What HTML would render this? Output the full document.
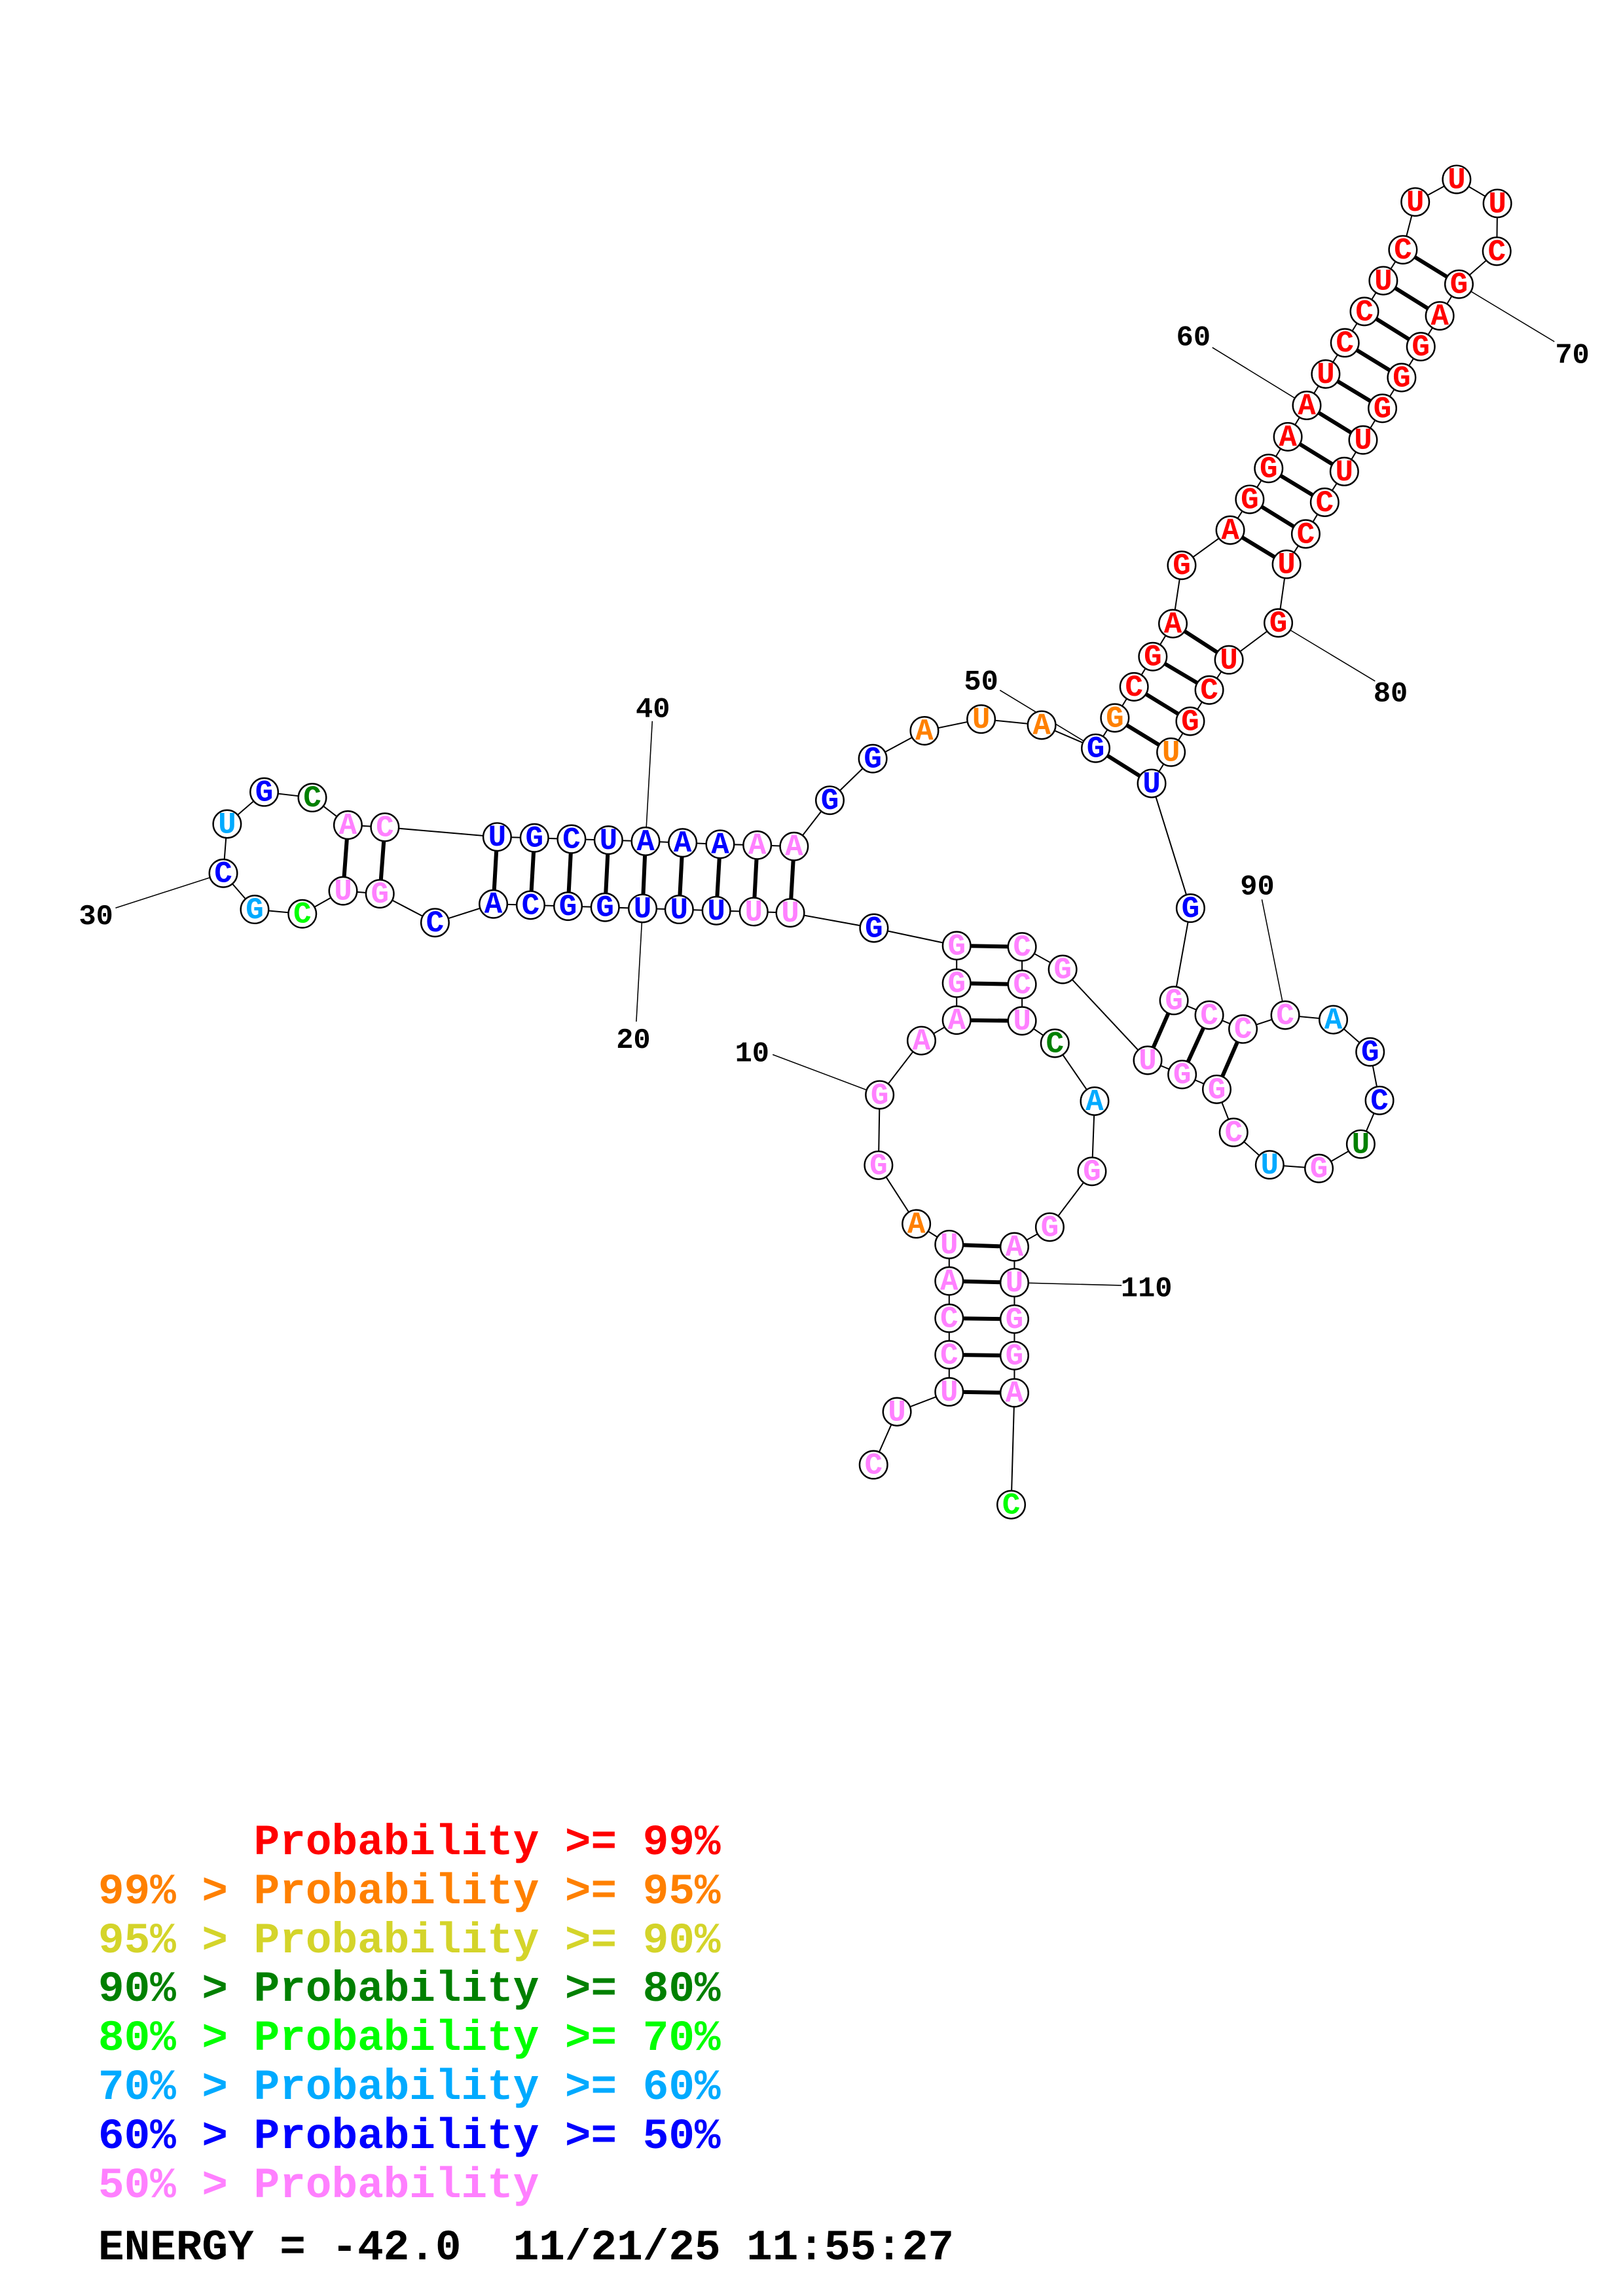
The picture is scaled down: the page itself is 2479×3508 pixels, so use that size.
<!DOCTYPE html>
<html>
<head>
<meta charset="utf-8">
<style>
html,body{margin:0;padding:0;background:#fff;}
svg{display:block;}
.nt circle{fill:#fff;stroke:#000;stroke-width:1.1;}
.nt text{font-family:"Liberation Mono","DejaVu Sans Mono",monospace;font-weight:bold;font-size:20.5px;text-anchor:middle;}
.lab{font-family:"Liberation Mono","DejaVu Sans Mono",monospace;font-weight:bold;font-size:19.5px;text-anchor:middle;fill:#000;}
.leg{font-family:"Liberation Mono","DejaVu Sans Mono",monospace;font-weight:bold;font-size:66px;white-space:pre;}
.p{fill:#ff80ff}.b{fill:#0000ff}.r{fill:#ff0000}.o{fill:#ff8000}.d{fill:#008000}.g{fill:#00ff00}.s{fill:#00aaff}
</style>
</head>
<body>
<svg width="2479" height="3508" viewBox="0 0 2479 3508" xmlns="http://www.w3.org/2000/svg">
<rect width="2479" height="3508" fill="#fff"/>
<g transform="scale(2.2394)">
<!-- label lines -->
<g stroke="#000" stroke-width="0.7" fill="none">
<line x1="527" y1="719.5" x2="600" y2="747"/>
<line x1="434" y1="697" x2="438.3" y2="619.8"/>
<line x1="78.8" y1="619.5" x2="152.3" y2="595.8"/>
<line x1="444.9" y1="492" x2="440.3" y2="574"/>
<line x1="682" y1="470.9" x2="747.3" y2="510.5"/>
<line x1="826.9" y1="237.1" x2="891.3" y2="276.6"/>
<line x1="1060.2" y1="233.1" x2="995.1" y2="193.9"/>
<line x1="937.9" y1="464.7" x2="871.9" y2="425"/>
<line x1="860.7" y1="613.7" x2="876.6" y2="692.6"/>
<line x1="765" y1="877" x2="691.9" y2="875.1"/>
</g>
<!-- backbone -->
<polyline fill="none" stroke="#000" stroke-width="0.9" points="595.8,999.4 611.8,963.2 647.4,949.6 647.4,924.3 647.4,899.4 647.4,874 647.4,849.1 625,835 599.2,795 600,747 628.5,710 652.5,696 652.5,670.8 652.5,645.2 596.1,633.2 539,622.8 514.1,622 488.6,621.3 463.2,620.5 438.3,619.8 412.7,619 387.4,618.3 361.9,617.5 336.5,616.8 296.7,629.5 259.1,609.8 234,607.8 206.2,623.5 173.7,620.5 152.3,595.8 154.9,562.2 180.2,540.4 213,544.2 237.3,562.9 262.5,564.4 339.1,571 364.5,571.7 389.8,572.5 415,573.2 440.3,574 465.6,575 491.2,576 516.5,576.6 541.6,577.5 566,546 595.3,517.6 630.5,498.6 669.2,490.6 710.5,494.7 747.3,510.5 760.4,489.8 773.5,468.6 786.3,448 800,425.5 806,385.7 839.1,361.7 852.4,340.7 865.3,319.6 878.4,298 891.3,276.6 904.2,255.2 917.3,233.9 930.6,212.5 943.5,191.5 956.9,170.4 965.3,137.8 993.5,122.4 1021.3,138.8 1020.9,171.4 995.1,193.9 982,215.5 969.1,236.5 956,257.6 942.9,278.6 929.7,300.2 916.9,321.7 903.5,342.7 890.6,364.3 877.5,385 871.9,425 838.2,450.2 824.8,470.8 811.8,492.1 798.7,513.2 785.5,534.5 812,619.6 800.7,682.6 824.8,692.6 847.8,702.1 876.6,692.6 909.4,695.7 934.5,717.7 940.9,750.8 928.1,780.6 899.6,797.2 866,794.7 841.4,772.6 829.9,743.2 806.3,733.1 782.8,723.4 724.8,661.4 697.1,646 697.1,671.6 697.1,696.5 719.5,711.8 746.6,751.3 744.8,799.2 716,837.2 691.9,850.7 691.9,875.1 691.9,900 691.9,924.9 691.9,950.3 689.7,1026.6"/>
<!-- pairs -->
<g stroke="#000" stroke-width="2.7">
<line x1="647.4" y1="949.6" x2="691.9" y2="950.3"/>
<line x1="647.4" y1="924.3" x2="691.9" y2="924.9"/>
<line x1="647.4" y1="899.4" x2="691.9" y2="900"/>
<line x1="647.4" y1="874" x2="691.9" y2="875.1"/>
<line x1="647.4" y1="849.1" x2="691.9" y2="850.7"/>
<line x1="652.5" y1="696" x2="697.1" y2="696.5"/>
<line x1="652.5" y1="670.8" x2="697.1" y2="671.6"/>
<line x1="652.5" y1="645.2" x2="697.1" y2="646"/>
<line x1="539" y1="622.8" x2="541.6" y2="577.5"/>
<line x1="514.1" y1="622" x2="516.5" y2="576.6"/>
<line x1="488.6" y1="621.3" x2="491.2" y2="576"/>
<line x1="463.2" y1="620.5" x2="465.6" y2="575"/>
<line x1="438.3" y1="619.8" x2="440.3" y2="574"/>
<line x1="412.7" y1="619" x2="415" y2="573.2"/>
<line x1="387.4" y1="618.3" x2="389.8" y2="572.5"/>
<line x1="361.9" y1="617.5" x2="364.5" y2="571.7"/>
<line x1="336.5" y1="616.8" x2="339.1" y2="571"/>
<line x1="259.1" y1="609.8" x2="262.5" y2="564.4"/>
<line x1="234" y1="607.8" x2="237.3" y2="562.9"/>
<line x1="747.3" y1="510.5" x2="785.5" y2="534.5"/>
<line x1="760.4" y1="489.8" x2="798.7" y2="513.2"/>
<line x1="773.5" y1="468.6" x2="811.8" y2="492.1"/>
<line x1="786.3" y1="448" x2="824.8" y2="470.8"/>
<line x1="800" y1="425.5" x2="838.2" y2="450.2"/>
<line x1="839.1" y1="361.7" x2="877.5" y2="385"/>
<line x1="852.4" y1="340.7" x2="890.6" y2="364.3"/>
<line x1="865.3" y1="319.6" x2="903.5" y2="342.7"/>
<line x1="878.4" y1="298" x2="916.9" y2="321.7"/>
<line x1="891.3" y1="276.6" x2="929.7" y2="300.2"/>
<line x1="904.2" y1="255.2" x2="942.9" y2="278.6"/>
<line x1="917.3" y1="233.9" x2="956" y2="257.6"/>
<line x1="930.6" y1="212.5" x2="969.1" y2="236.5"/>
<line x1="943.5" y1="191.5" x2="982" y2="215.5"/>
<line x1="956.9" y1="170.4" x2="995.1" y2="193.9"/>
<line x1="800.7" y1="682.6" x2="782.8" y2="723.4"/>
<line x1="824.8" y1="692.6" x2="806.3" y2="733.1"/>
<line x1="847.8" y1="702.1" x2="829.9" y2="743.2"/>
</g>
<!-- nucleotides -->
<g class="nt">
<g transform="translate(595.8,999.4)"><circle r="9.5"/><text y="6" class="p">C</text></g>
<g transform="translate(611.8,963.2)"><circle r="9.5"/><text y="6" class="p">U</text></g>
<g transform="translate(647.4,949.6)"><circle r="9.5"/><text y="6" class="p">U</text></g>
<g transform="translate(647.4,924.3)"><circle r="9.5"/><text y="6" class="p">C</text></g>
<g transform="translate(647.4,899.4)"><circle r="9.5"/><text y="6" class="p">C</text></g>
<g transform="translate(647.4,874)"><circle r="9.5"/><text y="6" class="p">A</text></g>
<g transform="translate(647.4,849.1)"><circle r="9.5"/><text y="6" class="p">U</text></g>
<g transform="translate(625,835)"><circle r="9.5"/><text y="6" class="o">A</text></g>
<g transform="translate(599.2,795)"><circle r="9.5"/><text y="6" class="p">G</text></g>
<g transform="translate(600,747)"><circle r="9.5"/><text y="6" class="p">G</text></g>
<g transform="translate(628.5,710)"><circle r="9.5"/><text y="6" class="p">A</text></g>
<g transform="translate(652.5,696)"><circle r="9.5"/><text y="6" class="p">A</text></g>
<g transform="translate(652.5,670.8)"><circle r="9.5"/><text y="6" class="p">G</text></g>
<g transform="translate(652.5,645.2)"><circle r="9.5"/><text y="6" class="p">G</text></g>
<g transform="translate(596.1,633.2)"><circle r="9.5"/><text y="6" class="b">G</text></g>
<g transform="translate(539,622.8)"><circle r="9.5"/><text y="6" class="p">U</text></g>
<g transform="translate(514.1,622)"><circle r="9.5"/><text y="6" class="p">U</text></g>
<g transform="translate(488.6,621.3)"><circle r="9.5"/><text y="6" class="b">U</text></g>
<g transform="translate(463.2,620.5)"><circle r="9.5"/><text y="6" class="b">U</text></g>
<g transform="translate(438.3,619.8)"><circle r="9.5"/><text y="6" class="b">U</text></g>
<g transform="translate(412.7,619)"><circle r="9.5"/><text y="6" class="b">G</text></g>
<g transform="translate(387.4,618.3)"><circle r="9.5"/><text y="6" class="b">G</text></g>
<g transform="translate(361.9,617.5)"><circle r="9.5"/><text y="6" class="b">C</text></g>
<g transform="translate(336.5,616.8)"><circle r="9.5"/><text y="6" class="b">A</text></g>
<g transform="translate(296.7,629.5)"><circle r="9.5"/><text y="6" class="b">C</text></g>
<g transform="translate(259.1,609.8)"><circle r="9.5"/><text y="6" class="p">G</text></g>
<g transform="translate(234,607.8)"><circle r="9.5"/><text y="6" class="p">U</text></g>
<g transform="translate(206.2,623.5)"><circle r="9.5"/><text y="6" class="g">C</text></g>
<g transform="translate(173.7,620.5)"><circle r="9.5"/><text y="6" class="s">G</text></g>
<g transform="translate(152.3,595.8)"><circle r="9.5"/><text y="6" class="b">C</text></g>
<g transform="translate(154.9,562.2)"><circle r="9.5"/><text y="6" class="s">U</text></g>
<g transform="translate(180.2,540.4)"><circle r="9.5"/><text y="6" class="b">G</text></g>
<g transform="translate(213,544.2)"><circle r="9.5"/><text y="6" class="d">C</text></g>
<g transform="translate(237.3,562.9)"><circle r="9.5"/><text y="6" class="p">A</text></g>
<g transform="translate(262.5,564.4)"><circle r="9.5"/><text y="6" class="p">C</text></g>
<g transform="translate(339.1,571)"><circle r="9.5"/><text y="6" class="b">U</text></g>
<g transform="translate(364.5,571.7)"><circle r="9.5"/><text y="6" class="b">G</text></g>
<g transform="translate(389.8,572.5)"><circle r="9.5"/><text y="6" class="b">C</text></g>
<g transform="translate(415,573.2)"><circle r="9.5"/><text y="6" class="b">U</text></g>
<g transform="translate(440.3,574)"><circle r="9.5"/><text y="6" class="b">A</text></g>
<g transform="translate(465.6,575)"><circle r="9.5"/><text y="6" class="b">A</text></g>
<g transform="translate(491.2,576)"><circle r="9.5"/><text y="6" class="b">A</text></g>
<g transform="translate(516.5,576.6)"><circle r="9.5"/><text y="6" class="p">A</text></g>
<g transform="translate(541.6,577.5)"><circle r="9.5"/><text y="6" class="p">A</text></g>
<g transform="translate(566,546)"><circle r="9.5"/><text y="6" class="b">G</text></g>
<g transform="translate(595.3,517.6)"><circle r="9.5"/><text y="6" class="b">G</text></g>
<g transform="translate(630.5,498.6)"><circle r="9.5"/><text y="6" class="o">A</text></g>
<g transform="translate(669.2,490.6)"><circle r="9.5"/><text y="6" class="o">U</text></g>
<g transform="translate(710.5,494.7)"><circle r="9.5"/><text y="6" class="o">A</text></g>
<g transform="translate(747.3,510.5)"><circle r="9.5"/><text y="6" class="b">G</text></g>
<g transform="translate(760.4,489.8)"><circle r="9.5"/><text y="6" class="o">G</text></g>
<g transform="translate(773.5,468.6)"><circle r="9.5"/><text y="6" class="r">C</text></g>
<g transform="translate(786.3,448)"><circle r="9.5"/><text y="6" class="r">G</text></g>
<g transform="translate(800,425.5)"><circle r="9.5"/><text y="6" class="r">A</text></g>
<g transform="translate(806,385.7)"><circle r="9.5"/><text y="6" class="r">G</text></g>
<g transform="translate(839.1,361.7)"><circle r="9.5"/><text y="6" class="r">A</text></g>
<g transform="translate(852.4,340.7)"><circle r="9.5"/><text y="6" class="r">G</text></g>
<g transform="translate(865.3,319.6)"><circle r="9.5"/><text y="6" class="r">G</text></g>
<g transform="translate(878.4,298)"><circle r="9.5"/><text y="6" class="r">A</text></g>
<g transform="translate(891.3,276.6)"><circle r="9.5"/><text y="6" class="r">A</text></g>
<g transform="translate(904.2,255.2)"><circle r="9.5"/><text y="6" class="r">U</text></g>
<g transform="translate(917.3,233.9)"><circle r="9.5"/><text y="6" class="r">C</text></g>
<g transform="translate(930.6,212.5)"><circle r="9.5"/><text y="6" class="r">C</text></g>
<g transform="translate(943.5,191.5)"><circle r="9.5"/><text y="6" class="r">U</text></g>
<g transform="translate(956.9,170.4)"><circle r="9.5"/><text y="6" class="r">C</text></g>
<g transform="translate(965.3,137.8)"><circle r="9.5"/><text y="6" class="r">U</text></g>
<g transform="translate(993.5,122.4)"><circle r="9.5"/><text y="6" class="r">U</text></g>
<g transform="translate(1021.3,138.8)"><circle r="9.5"/><text y="6" class="r">U</text></g>
<g transform="translate(1020.9,171.4)"><circle r="9.5"/><text y="6" class="r">C</text></g>
<g transform="translate(995.1,193.9)"><circle r="9.5"/><text y="6" class="r">G</text></g>
<g transform="translate(982,215.5)"><circle r="9.5"/><text y="6" class="r">A</text></g>
<g transform="translate(969.1,236.5)"><circle r="9.5"/><text y="6" class="r">G</text></g>
<g transform="translate(956,257.6)"><circle r="9.5"/><text y="6" class="r">G</text></g>
<g transform="translate(942.9,278.6)"><circle r="9.5"/><text y="6" class="r">G</text></g>
<g transform="translate(929.7,300.2)"><circle r="9.5"/><text y="6" class="r">U</text></g>
<g transform="translate(916.9,321.7)"><circle r="9.5"/><text y="6" class="r">U</text></g>
<g transform="translate(903.5,342.7)"><circle r="9.5"/><text y="6" class="r">C</text></g>
<g transform="translate(890.6,364.3)"><circle r="9.5"/><text y="6" class="r">C</text></g>
<g transform="translate(877.5,385)"><circle r="9.5"/><text y="6" class="r">U</text></g>
<g transform="translate(871.9,425)"><circle r="9.5"/><text y="6" class="r">G</text></g>
<g transform="translate(838.2,450.2)"><circle r="9.5"/><text y="6" class="r">U</text></g>
<g transform="translate(824.8,470.8)"><circle r="9.5"/><text y="6" class="r">C</text></g>
<g transform="translate(811.8,492.1)"><circle r="9.5"/><text y="6" class="r">G</text></g>
<g transform="translate(798.7,513.2)"><circle r="9.5"/><text y="6" class="o">U</text></g>
<g transform="translate(785.5,534.5)"><circle r="9.5"/><text y="6" class="b">U</text></g>
<g transform="translate(812,619.6)"><circle r="9.5"/><text y="6" class="b">G</text></g>
<g transform="translate(800.7,682.6)"><circle r="9.5"/><text y="6" class="p">G</text></g>
<g transform="translate(824.8,692.6)"><circle r="9.5"/><text y="6" class="p">C</text></g>
<g transform="translate(847.8,702.1)"><circle r="9.5"/><text y="6" class="p">C</text></g>
<g transform="translate(876.6,692.6)"><circle r="9.5"/><text y="6" class="p">C</text></g>
<g transform="translate(909.4,695.7)"><circle r="9.5"/><text y="6" class="s">A</text></g>
<g transform="translate(934.5,717.7)"><circle r="9.5"/><text y="6" class="b">G</text></g>
<g transform="translate(940.9,750.8)"><circle r="9.5"/><text y="6" class="b">C</text></g>
<g transform="translate(928.1,780.6)"><circle r="9.5"/><text y="6" class="d">U</text></g>
<g transform="translate(899.6,797.2)"><circle r="9.5"/><text y="6" class="p">G</text></g>
<g transform="translate(866,794.7)"><circle r="9.5"/><text y="6" class="s">U</text></g>
<g transform="translate(841.4,772.6)"><circle r="9.5"/><text y="6" class="p">C</text></g>
<g transform="translate(829.9,743.2)"><circle r="9.5"/><text y="6" class="p">G</text></g>
<g transform="translate(806.3,733.1)"><circle r="9.5"/><text y="6" class="p">G</text></g>
<g transform="translate(782.8,723.4)"><circle r="9.5"/><text y="6" class="p">U</text></g>
<g transform="translate(724.8,661.4)"><circle r="9.5"/><text y="6" class="p">G</text></g>
<g transform="translate(697.1,646)"><circle r="9.5"/><text y="6" class="p">C</text></g>
<g transform="translate(697.1,671.6)"><circle r="9.5"/><text y="6" class="p">C</text></g>
<g transform="translate(697.1,696.5)"><circle r="9.5"/><text y="6" class="p">U</text></g>
<g transform="translate(719.5,711.8)"><circle r="9.5"/><text y="6" class="d">C</text></g>
<g transform="translate(746.6,751.3)"><circle r="9.5"/><text y="6" class="s">A</text></g>
<g transform="translate(744.8,799.2)"><circle r="9.5"/><text y="6" class="p">G</text></g>
<g transform="translate(716,837.2)"><circle r="9.5"/><text y="6" class="p">G</text></g>
<g transform="translate(691.9,850.7)"><circle r="9.5"/><text y="6" class="p">A</text></g>
<g transform="translate(691.9,875.1)"><circle r="9.5"/><text y="6" class="p">U</text></g>
<g transform="translate(691.9,900)"><circle r="9.5"/><text y="6" class="p">G</text></g>
<g transform="translate(691.9,924.9)"><circle r="9.5"/><text y="6" class="p">G</text></g>
<g transform="translate(691.9,950.3)"><circle r="9.5"/><text y="6" class="p">A</text></g>
<g transform="translate(689.7,1026.6)"><circle r="9.5"/><text y="6" class="g">C</text></g>
</g>
<!-- index labels -->
<text class="lab" x="513" y="724">10</text>
<text class="lab" x="432" y="715">20</text>
<text class="lab" x="65.5" y="630.5">30</text>
<text class="lab" x="445.3" y="489.3">40</text>
<text class="lab" x="669.2" y="470.5">50</text>
<text class="lab" x="814" y="235.5">60</text>
<text class="lab" x="1072.4" y="247.5">70</text>
<text class="lab" x="948.5" y="478.5">80</text>
<text class="lab" x="857.6" y="610.2">90</text>
<text class="lab" x="782" y="884.3">110</text>
</g>
<!-- legend -->
<text class="leg" x="150" y="2833" fill="#ff0000" xml:space="preserve">      Probability &gt;= 99%</text>
<text class="leg" x="150" y="2908" fill="#ff8000" xml:space="preserve">99% &gt; Probability &gt;= 95%</text>
<text class="leg" x="150" y="2983" fill="#d4d42a" xml:space="preserve">95% &gt; Probability &gt;= 90%</text>
<text class="leg" x="150" y="3057" fill="#008000" xml:space="preserve">90% &gt; Probability &gt;= 80%</text>
<text class="leg" x="150" y="3132" fill="#00ff00" xml:space="preserve">80% &gt; Probability &gt;= 70%</text>
<text class="leg" x="150" y="3207" fill="#00aaff" xml:space="preserve">70% &gt; Probability &gt;= 60%</text>
<text class="leg" x="150" y="3282" fill="#0000ff" xml:space="preserve">60% &gt; Probability &gt;= 50%</text>
<text class="leg" x="150" y="3357" fill="#ff80ff" xml:space="preserve">50% &gt; Probability</text>
<text class="leg" x="150" y="3452" fill="#000000" xml:space="preserve">ENERGY = -42.0  11/21/25 11:55:27</text>
</svg>
</body>
</html>
